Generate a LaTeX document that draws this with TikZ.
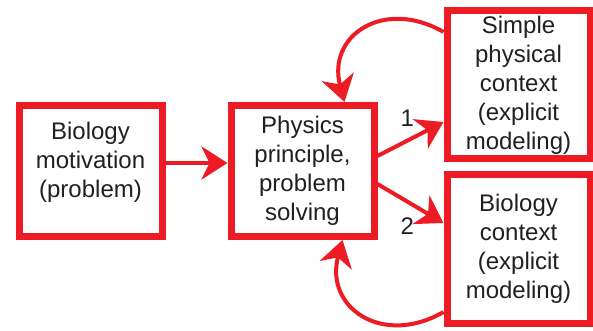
\documentclass[tikz,border=0pt]{standalone}
\usepackage{fontspec}
\setmainfont{Liberation Sans}
\usetikzlibrary{arrows.meta, positioning}
\definecolor{boxred}{RGB}{237,28,36}
\definecolor{inkgray}{RGB}{35,31,32}

\begin{document}
\begin{tikzpicture}[
  x=0.5pt, y=-0.5pt,
  box/.style={rectangle, draw=boxred, line width=3.5pt, fill=white,
              text=inkgray, align=center, inner sep=2pt,
              minimum width=71.5pt, minimum height=65.5pt,
              font=\fontsize{12}{14.5}\selectfont},
  tallbox/.style={box, minimum height=74pt},
  arr/.style={-{Stealth[length=13pt,width=16.5pt,inset=4pt]}, line width=2pt, boxred},
  num/.style={text=inkgray, inner sep=0pt, font=\fontsize{12}{14.5}\selectfont},
  node distance=31pt
]
\useasboundingbox (0,0) rectangle (593,331);

% Boxes
\node[box, text depth=11pt] (bio) at (90.5,171) {Biology\\motivation\\(problem)};
\node[box, right=of bio] (phys) {Physics\\principle,\\problem\\solving};
\node[tallbox, right=33pt of phys, yshift=43pt] (simple)
  {Simple\\physical\\context\\(explicit\\modeling)};
\node[tallbox, below=4.5pt of simple] (bioctx)
  {Biology\\context\\(explicit\\modeling)};

% Straight arrows
\draw[arr] ([yshift=4pt]bio.east) -- ([yshift=4pt]phys.west);
\draw[arr] ([yshift=7.5pt]phys.east) -- ([yshift=-18.5pt]simple.west)
  node[num, pos=0.45, yshift=11pt] (one) {1};
\draw[arr] ([yshift=-6.5pt]phys.east) -- ([yshift=13pt]bioctx.west)
  node[num, pos=0.45, yshift=-12.5pt] (two) {2};

% Loops back to the physics box
\draw[arr] ([yshift=26.5pt]simple.west) to[out=150, in=105, looseness=1.45]
  ([xshift=21pt]phys.north);
\draw[arr] ([yshift=-31.5pt]bioctx.west) to[out=-150, in=-105, looseness=1.45]
  ([xshift=20pt]phys.south);

\end{tikzpicture}
\end{document}
